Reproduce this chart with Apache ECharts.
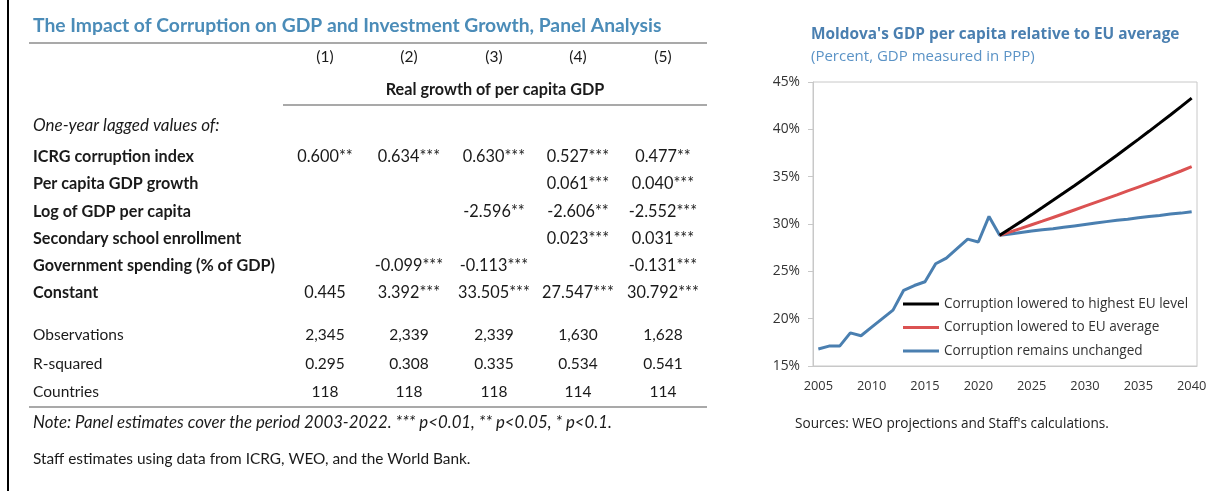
<!DOCTYPE html>
<html><head><meta charset="utf-8">
<script src="https://cdn.jsdelivr.net/npm/echarts@6/dist/echarts.min.js"></script>
<style>html,body{margin:0;padding:0;background:#fff}#c{width:1229px;height:496px}</style>
</head><body><div id="c"></div>
<script>
// ---------- Table data ----------
const tableTitle = 'The Impact of Corruption on GDP and Investment Growth, Panel Analysis';
const colHeaders = ['(1)', '(2)', '(3)', '(4)', '(5)'];
const depVar = 'Real growth of per capita GDP';
const lagNote = 'One-year lagged values of:';
const rowLabels = ['ICRG corruption index', 'Per capita GDP growth', 'Log of GDP per capita',
  'Secondary school enrollment', 'Government spending (% of GDP)', 'Constant'];
const coefs = [
  ['0.600**', '0.634***', '0.630***', '0.527***', '0.477**'],
  ['', '', '', '0.061***', '0.040***'],
  ['', '', '-2.596**', '-2.606**', '-2.552***'],
  ['', '', '', '0.023***', '0.031***'],
  ['', '-0.099***', '-0.113***', '', '-0.131***'],
  ['0.445', '3.392***', '33.505***', '27.547***', '30.792***']
];
const statLabels = ['Observations', 'R-squared', 'Countries'];
const stats = [
  ['2,345', '2,339', '2,339', '1,630', '1,628'],
  ['0.295', '0.308', '0.335', '0.534', '0.541'],
  ['118', '118', '118', '114', '114']
];
const noteText = 'Note: Panel estimates cover the period 2003-2022. *** p<0.01, ** p<0.05, * p<0.1.';
const sourceText = 'Staff estimates using data from ICRG, WEO, and the World Bank.';

// ---------- Chart data ----------
const chartTitle = "Moldova's GDP per capita relative to EU average";
const chartSubtitle = '(Percent, GDP measured in PPP)';
const chartSource = "Sources: WEO projections and Staff's calculations.";
const years = ['2005','2006','2007','2008','2009','2010','2011','2012','2013','2014','2015','2016',
  '2017','2018','2019','2020','2021','2022','2023','2024','2025','2026','2027','2028','2029','2030',
  '2031','2032','2033','2034','2035','2036','2037','2038','2039','2040'];
const seriesNames = ['Corruption lowered to highest EU level', 'Corruption lowered to EU average', 'Corruption remains unchanged'];
// 2005-2040
const unchanged = [16.8, 17.1, 17.1, 18.5, 18.2, 19.1, 20.0, 20.9, 23.0, 23.5, 23.9, 25.8,
  26.4, 27.4, 28.4, 28.1, 30.8, 28.8, 28.95, 29.1, 29.25, 29.4, 29.5, 29.65, 29.8, 29.95,
  30.1, 30.25, 30.4, 30.5, 30.65, 30.8, 30.9, 31.05, 31.15, 31.3];
// 2022-2040
const euAverage = [28.8, 29.17, 29.54, 29.92, 30.3, 30.69, 31.08, 31.48, 31.88, 32.28, 32.68, 33.08,
  33.49, 33.9, 34.31, 34.73, 35.16, 35.6, 36.05];
const highestEU = [28.8, 29.52, 30.25, 30.99, 31.74, 32.5, 33.27, 34.05, 34.84, 35.64, 36.45, 37.27,
  38.1, 38.94, 39.79, 40.65, 41.52, 42.4, 43.3];
const projStart = years.indexOf('2022');

// ---------- Layout ----------
const TF = 'Lato, "Noto Sans", sans-serif';
const CF = '"Open Sans", "Noto Sans", sans-serif';
const txtCol = '#1a1a1a';
const colX = [325, 409, 494, 578, 663];
const labelX = 33;
const rowY0 = 157, rowStep = 27.2;
const statY0 = 335, statStep = 28.5;

function T(x, y, text, opt) {
  opt = opt || {};
  return { type: 'text', x: x, y: y, silent: true,
    style: { text: text, fill: opt.fill || txtCol, font: opt.font || ('15.5px ' + TF),
      align: opt.align || 'left', verticalAlign: 'middle' } };
}
function L(x1, y1, x2, y2, c, w) {
  return { type: 'line', silent: true, shape: { x1: x1, y1: y1, x2: x2, y2: y2 },
    style: { stroke: c, lineWidth: w } };
}
const g = [];
g.push({ type: 'rect', silent: true, shape: { x: 7, y: 0, width: 2, height: 491 }, style: { fill: '#000' } });
g.push(T(33, 26, tableTitle, { font: 'bold 19.3px ' + TF, fill: '#4b8cb8' }));
g.push(L(29, 43, 707, 43, '#8c8c8c', 1.5));
colHeaders.forEach((h, i) => g.push(T(colX[i], 57, h, { align: 'center' })));
g.push(T(495, 90, depVar, { align: 'center', font: 'bold 16.2px ' + TF }));
g.push(L(283, 105, 707, 105, '#8c8c8c', 1.5));
g.push(T(labelX, 126, lagNote, { font: 'italic 17px ' + TF }));
rowLabels.forEach((lab, r) => {
  const y = rowY0 + r * rowStep;
  g.push(T(labelX, y, lab, { font: 'bold 16.2px ' + TF }));
  coefs[r].forEach((v, c) => { if (v) g.push(T(colX[c], y, v, { align: 'center', font: '16.3px ' + TF })); });
});
statLabels.forEach((lab, r) => {
  const y = statY0 + r * statStep;
  g.push(T(labelX, y, lab));
  stats[r].forEach((v, c) => g.push(T(colX[c], y, v, { align: 'center' })));
});
g.push(L(29, 407, 707, 407, '#8c8c8c', 1.5));
g.push(T(labelX, 423, noteText, { font: 'italic 16.8px ' + TF }));
g.push(T(labelX, 459, sourceText, { font: '15.4px ' + TF }));
// chart texts
g.push(T(811, 35, chartTitle, { font: 'bold 15.4px ' + CF, fill: '#4a7fb0' }));
g.push(T(811, 57, chartSubtitle, { font: '15px ' + CF, fill: '#5b93c6' }));
g.push(T(795, 424, chartSource, { font: '13.6px ' + CF, fill: '#222' }));

function pad(arr) { return years.map((y, i) => i < projStart ? null : arr[i - projStart]); }

const chart = echarts.init(document.getElementById('c'), null, { renderer: 'canvas' });
chart.setOption({
  animation: false,
  backgroundColor: '#fff',
  graphic: g,
  grid: { left: 813, top: 82, width: 384, height: 284, show: true, borderColor: '#c8c8c8', borderWidth: 1, containLabel: false },
  legend: {
    data: seriesNames, orient: 'vertical', left: 903, top: 295.5, padding: 0,
    icon: 'rect', itemWidth: 36, itemHeight: 3, itemGap: 6.5,
    textStyle: { fontFamily: CF, fontSize: 13.6, color: '#333', lineHeight: 17 }
  },
  xAxis: {
    type: 'category', data: years, boundaryGap: true,
    axisLine: { lineStyle: { color: '#c8c8c8' } }, axisTick: { show: false },
    axisLabel: { interval: 4, fontFamily: CF, fontSize: 12.8, color: '#333', margin: 14 }
  },
  yAxis: {
    type: 'value', min: 15, max: 45, interval: 5,
    axisLine: { show: true, lineStyle: { color: '#c8c8c8' } },
    axisTick: { show: true, length: 5, lineStyle: { color: '#c8c8c8' } },
    splitLine: { show: false },
    axisLabel: { formatter: '{value}%', fontFamily: CF, fontSize: 13.8, color: '#333', margin: 13 }
  },
  series: [
    { name: seriesNames[2], type: 'line', data: unchanged, showSymbol: false, symbol: 'none',
      lineStyle: { color: '#4a7fb0', width: 3 }, itemStyle: { color: '#4a7fb0' } },
    { name: seriesNames[1], type: 'line', data: pad(euAverage), showSymbol: false, symbol: 'none',
      lineStyle: { color: '#db5252', width: 3 }, itemStyle: { color: '#db5252' } },
    { name: seriesNames[0], type: 'line', data: pad(highestEU), showSymbol: false, symbol: 'none',
      lineStyle: { color: '#000', width: 3 }, itemStyle: { color: '#000' } }
  ]
});
</script></body></html>
